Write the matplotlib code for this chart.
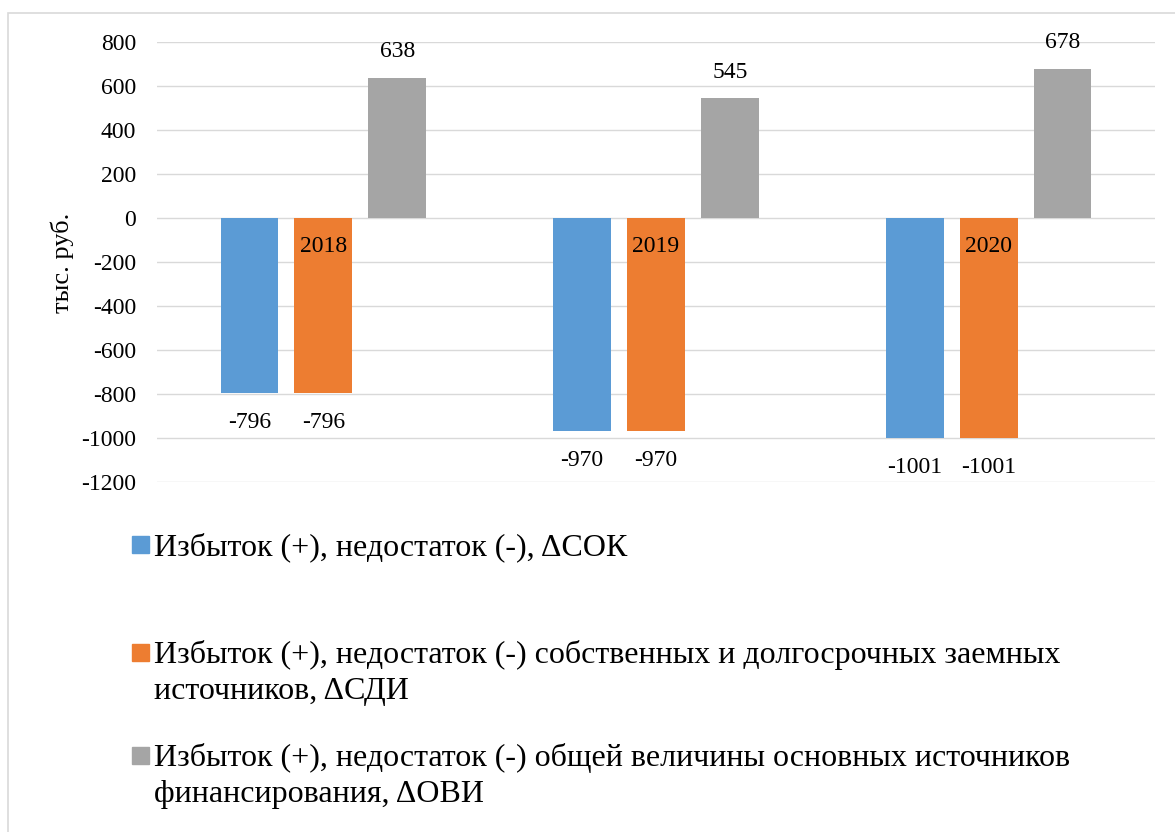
import matplotlib
matplotlib.use("Agg")
import matplotlib.pyplot as plt
from matplotlib.patches import Rectangle
import numpy as np

plt.rcParams['font.family'] = ['Liberation Serif', 'DejaVu Serif']

years = ["2018", "2019", "2020"]
series_labels = [
    "Избыток (+), недостаток (-), ΔСОК",
    "Избыток (+), недостаток (-) собственных и долгосрочных заемных\nисточников, ΔСДИ",
    "Избыток (+), недостаток (-) общей величины основных источников\nфинансирования, ΔОВИ",
]
delta_sok = [-796, -970, -1001]
delta_sdi = [-796, -970, -1001]
delta_ovi = [638, 545, 678]
colors = ["#5B9BD5", "#ED7D31", "#A5A5A5"]
y_ticks = [800, 600, 400, 200, 0, -200, -400, -600, -800, -1000, -1200]

W, H = 1175, 832
fig = plt.figure(figsize=(W / 100, H / 100), dpi=100)

def fx(px):
    return px / W

def fy(py):
    return 1 - py / H

# chart area frame
fig.patches.append(Rectangle((fx(8), fy(840)), fx(1180) - fx(8), fy(13) - fy(840),
                             transform=fig.transFigure, fill=False,
                             edgecolor="#D9D9D9", lw=1.2))

ax = fig.add_axes([fx(157), fy(482), fx(1155) - fx(157), fy(42) - fy(482)])
ax.set_ylim(-1200, 800)
ax.set_xlim(-0.5, len(years) - 0.5)

x = np.arange(len(years))
bar_w = 0.174
step = 0.222
series = [delta_sok, delta_sdi, delta_ovi]
for i, (vals, col) in enumerate(zip(series, colors)):
    xs = x + (i - 1) * step
    ax.bar(xs, vals, width=bar_w, color=col, zorder=2)
    for xi, v in zip(xs, vals):
        off = 26 if v >= 0 else -29
        ax.annotate(f"{v}", xy=(xi, v), xytext=(0, off), textcoords="offset pixels",
                    ha="center", va="center", fontsize=17, color="#000000", zorder=4)

# category labels sit on the zero line
for xi, yr in zip(x, years):
    ax.annotate(yr, xy=(xi, 0), xytext=(0, -29), textcoords="offset pixels",
                ha="center", va="center", fontsize=17, color="#000000", zorder=5)

ax.set_yticks(y_ticks)
ax.set_yticklabels([str(t) for t in y_ticks], fontsize=17)
ax.set_xticks([])
ax.tick_params(axis="y", length=0, pad=15)
ax.grid(axis="y", color="#D9D9D9", lw=1.0, zorder=0)
ax.set_axisbelow(True)
for s in ax.spines.values():
    s.set_visible(False)

fig.text(fx(62), fy(263), "тыс. руб.", rotation=90, ha="center", va="center", fontsize=19)

# legend drawn below the plot
entry_baselines = [555, 663, 766]
line_step = 36
sq = 17
for lab, col, yb in zip(series_labels, colors, entry_baselines):
    cy = yb - 11
    fig.patches.append(Rectangle((fx(132), fy(cy + sq / 2)), fx(sq), sq / H,
                                 transform=fig.transFigure, color=col))
    for k, line in enumerate(lab.split("\n")):
        fig.text(fx(154), fy(yb + k * line_step), line, ha="left", va="baseline",
                 fontsize=23, color="#000000")

fig.savefig("out.png", dpi=100, facecolor="white")
